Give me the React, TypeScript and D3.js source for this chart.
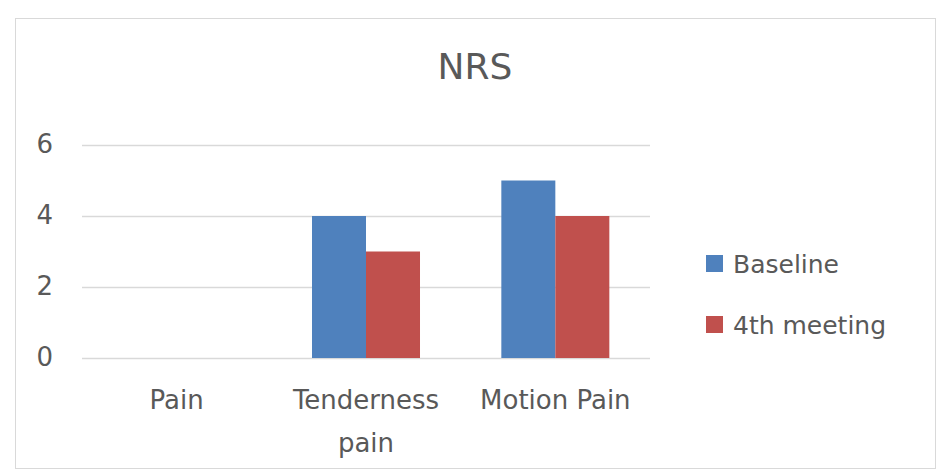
import React, { useRef, useEffect } from 'react'
import * as d3 from 'd3'

const categories = ['Pain', 'Tenderness pain', 'Motion Pain']
const seriesNames = ['Baseline', '4th meeting']
const baseline = [0, 4, 5]
const fourthMeeting = [0, 3, 4]
const yTicks = [0, 2, 4, 6]
const colors = ['#4f81bd', '#c0504d']

const W = 941
const H = 473
const FONT = 'DejaVu Sans, sans-serif'

const App = () => {
    const ref = useRef<SVGSVGElement>(null)

    useEffect(() => {
        const svg = d3.select(ref.current)
        svg.selectAll('*').remove()

        svg.append('rect').attr('width', W).attr('height', H).attr('fill', '#fff')

        // chart area frame
        svg.append('rect')
            .attr('x', 15.5).attr('y', 18.5)
            .attr('width', 920).attr('height', 450)
            .attr('fill', 'none')
            .attr('stroke', '#d9d9d9')

        const left = 82, right = 650, top = 145, bottom = 358

        const x0 = d3.scaleBand().domain(categories).range([left, right]).padding(0)
        const x1 = d3.scaleBand().domain(seriesNames).range([0, x0.bandwidth()])
            .paddingInner(0).paddingOuter(0.753)
        const y = d3.scaleLinear().domain([0, 6]).range([bottom, top])

        // title
        svg.append('text')
            .attr('x', 475).attr('y', 79)
            .attr('text-anchor', 'middle')
            .attr('font-family', FONT).attr('font-size', 36)
            .attr('fill', '#595959')
            .text('NRS')

        // grid
        svg.append('g').selectAll('line')
            .data(yTicks).enter().append('line')
            .attr('x1', left).attr('x2', right)
            .attr('y1', d => Math.round(y(d)) + 0.5).attr('y2', d => Math.round(y(d)) + 0.5)
            .attr('stroke', '#d9d9d9').attr('stroke-width', 1.5)

        svg.append('g').selectAll('text')
            .data(yTicks).enter().append('text')
            .attr('x', 53).attr('y', d => y(d))
            .attr('dy', '0.3em')
            .attr('text-anchor', 'end')
            .attr('font-family', FONT).attr('font-size', 26)
            .attr('fill', '#595959')
            .text(d => d)

        // bars
        const rows = categories.map((c, i) => ({ cat: c, vals: [baseline[i], fourthMeeting[i]] }))
        const groups = svg.append('g').selectAll('g')
            .data(rows).enter().append('g')
            .attr('transform', d => `translate(${x0(d.cat)},0)`)

        groups.selectAll('rect')
            .data(d => d.vals.map((v, j) => ({ name: seriesNames[j], v, j })))
            .enter().append('rect')
            .attr('x', d => x1(d.name)!)
            .attr('width', x1.bandwidth())
            .attr('y', d => y(d.v))
            .attr('height', d => bottom - y(d.v))
            .attr('fill', d => colors[d.j])

        // category labels
        const labelLines: Record<string, string[]> = {
            'Pain': ['Pain'],
            'Tenderness pain': ['Tenderness', 'pain'],
            'Motion Pain': ['Motion Pain'],
        }
        categories.forEach(c => {
            const cx = x0(c)! + x0.bandwidth() / 2
            const t = svg.append('text')
                .attr('x', cx)
                .attr('y', 409)
                .attr('text-anchor', 'middle')
                .attr('font-family', FONT).attr('font-size', 26)
                .attr('fill', '#595959')
            labelLines[c].forEach((ln, k) => {
                t.append('tspan')
                    .attr('x', cx)
                    .attr('dy', k === 0 ? 0 : 43)
                    .text(ln)
            })
        })

        // legend
        const legend = svg.append('g').attr('transform', 'translate(706,0)')
        seriesNames.forEach((n, i) => {
            const cy = 264 + i * 61
            legend.append('rect')
                .attr('x', 0).attr('y', cy - 9)
                .attr('width', 17).attr('height', 17)
                .attr('fill', colors[i])
            legend.append('text')
                .attr('x', 27).attr('y', cy)
                .attr('dy', '0.35em')
                .attr('font-family', FONT).attr('font-size', 25)
                .attr('fill', '#595959')
                .text(n)
        })
    }, [])

    return <svg ref={ref} width={W} height={H} style={{ position: 'absolute', left: 0, top: 0 }}></svg>
}

export default App
